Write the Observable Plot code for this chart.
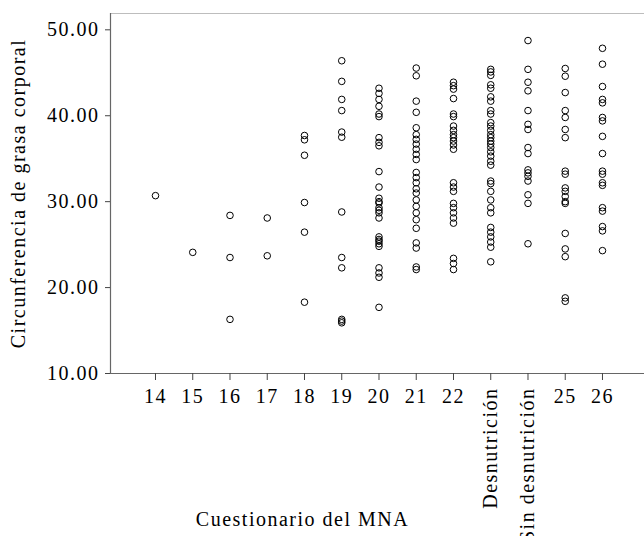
<!DOCTYPE html>
<html><head><meta charset="utf-8">
<script src="https://cdn.jsdelivr.net/npm/d3@7"></script>
<script src="https://cdn.jsdelivr.net/npm/@observablehq/plot@0.6"></script>
<style>
body{margin:0;background:#fff}
svg text{letter-spacing:1.5px}
</style>
</head><body><div id="chart"></div>
<script>
const categories = ["14","15","16","17","18","19","20","21","22","Desnutrición","Sin desnutrición","25","26"];
const rotatedCategories = ["Desnutrición","Sin desnutrición"];

const values14 = [30.7];
const values15 = [24.1];
const values16 = [28.4, 23.5, 16.3];
const values17 = [28.1, 23.7];
const values18 = [37.7, 37.2, 35.4, 29.9, 26.45, 18.3];
const values19 = [46.4, 44.0, 41.9, 40.6, 38.1, 37.5, 28.8, 23.5, 22.3, 16.3, 16.1, 15.9];
const values20 = [43.2, 42.6, 41.9, 41.1, 40.2, 39.9, 37.45, 36.9, 36.5, 33.5, 31.7, 30.4, 30.0, 29.85, 29.3, 29.0, 28.7, 28.1, 25.9, 25.6, 25.4, 25.1, 24.8, 22.3, 21.7, 21.2, 17.7];
const values21 = [45.55, 44.65, 41.7, 40.4, 38.6, 37.8, 37.25, 36.7, 36.1, 35.5, 34.9, 33.4, 32.8, 32.2, 31.5, 31.0, 30.2, 29.45, 28.7, 27.9, 26.9, 25.2, 24.6, 22.4, 22.1];
const values22 = [43.9, 43.5, 43.1, 42.0, 40.2, 39.9, 38.8, 38.3, 37.8, 37.45, 37.05, 36.6, 36.1, 32.2, 31.7, 31.2, 29.8, 29.3, 28.7, 28.1, 27.5, 23.4, 22.8, 22.1];
const valuesDesnutricion = [45.4, 45.1, 44.7, 43.6, 43.2, 42.2, 41.7, 40.6, 40.2, 39.2, 38.8, 38.3, 37.8, 37.45, 37.05, 36.7, 36.3, 35.8, 35.3, 34.7, 34.25, 32.4, 32.1, 31.2, 30.2, 29.3, 28.7, 27.0, 26.45, 25.9, 25.3, 24.7, 23.0];
const valuesSinDesnutricion = [48.75, 45.4, 43.9, 42.9, 40.6, 39.0, 38.4, 36.3, 35.6, 33.7, 33.35, 32.95, 32.4, 30.8, 29.8, 25.1];
const values25 = [45.5, 44.6, 42.7, 40.6, 39.8, 38.4, 37.45, 33.55, 33.2, 31.6, 31.2, 30.6, 30.0, 29.8, 26.3, 24.5, 23.6, 18.8, 18.4];
const values26 = [47.85, 46.0, 43.4, 41.9, 41.5, 39.8, 39.4, 37.6, 35.6, 33.55, 33.2, 32.2, 31.9, 29.3, 28.9, 27.1, 26.6, 24.3];

const yTicks = [10, 20, 30, 40, 50];
const yLabel = "Circunferencia de grasa corporal";
const xLabel = "Cuestionario del MNA";

const seriesByCategory = [values14, values15, values16, values17, values18, values19, values20, values21, values22, valuesDesnutricion, valuesSinDesnutricion, values25, values26];
const points = categories.flatMap((c, i) => seriesByCategory[i].map(v => ({cat: c, idx: i, value: v})));
const tickIndices = categories.map((c, i) => i);

const xDomain = [-1.208, 13.128];
const yDomain = [10, 51.9];
const font = "'Liberation Serif', 'Times New Roman', serif";

const chart = Plot.plot({
  width: 644, height: 536,
  marginLeft: 110, marginRight: 0, marginTop: 13, marginBottom: 163,
  style: {fontFamily: font, fontSize: "20px", background: "#fff", color: "#000"},
  x: {type: "linear", domain: xDomain},
  y: {domain: yDomain},
  marks: [
    Plot.ruleY([yDomain[1]], {stroke: "#bdbdbd", strokeWidth: 1}),
    Plot.ruleY([yDomain[0]], {stroke: "#666", strokeWidth: 1.2}),
    Plot.ruleX([xDomain[0]], {stroke: "#666", strokeWidth: 1.2}),
    Plot.axisY({ticks: yTicks, tickFormat: d => d.toFixed(2), tickSize: 5, tickPadding: 6, label: null, stroke: "#444", fontSize: 20}),
    Plot.axisX({ticks: tickIndices, tickFormat: i => rotatedCategories.includes(categories[i]) ? "" : categories[i], tickSize: 7, tickPadding: 8, label: null, stroke: "#444", fontSize: 20}),
    Plot.text(rotatedCategories, {x: d => categories.indexOf(d), y: yDomain[0], text: d => d, rotate: -90, textAnchor: "end", dy: 14, fontSize: 20, fill: "#000"}),
    Plot.text([yLabel], {frameAnchor: "left", text: d => d, rotate: -90, textAnchor: "middle", dx: -92, fontSize: 20, fill: "#000"}),
    Plot.text([xLabel], {frameAnchor: "bottom", text: d => d, dx: -75, dy: 152, fontSize: 20, fill: "#000"}),
    Plot.dot(points, {x: "idx", y: "value", r: 3.3, stroke: "#000", strokeWidth: 1, fill: "none"})
  ]
});
document.getElementById("chart").appendChild(chart);
</script>
</body></html>
